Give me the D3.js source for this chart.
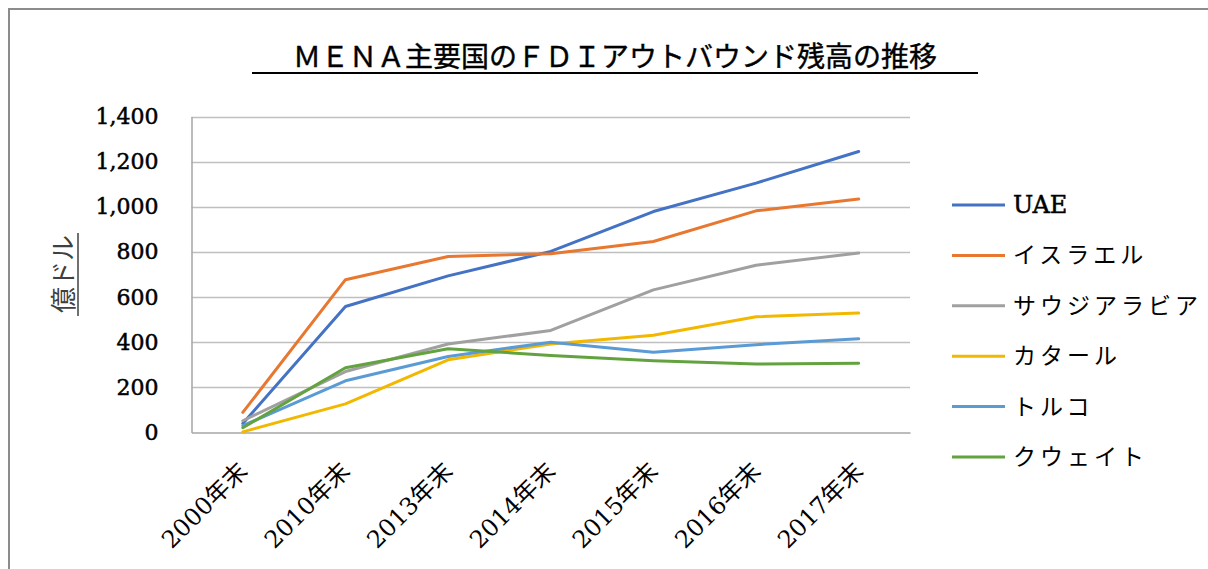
<!DOCTYPE html>
<html><head><meta charset="utf-8">
<script src="https://cdn.jsdelivr.net/npm/d3@7"></script>
<style>
html,body{margin:0;padding:0;background:#fff;}
svg{display:block;}
</style></head>
<body>
<svg id="chart" width="1208" height="569"></svg>
<script>
const title = "ＭＥＮＡ主要国のＦＤＩアウトバウンド残高の推移";
const yLabel = "億ドル";
const categories = ["2000年末","2010年末","2013年末","2014年末","2015年末","2016年末","2017年末"];
const seriesNames = ["UAE","イスラエル","サウジアラビア","カタール","トルコ","クウェイト"];
const seriesColors = ["#4472c4","#e87730","#a0a0a0","#f2b800","#5b9bd5","#63a33f"];
const uae    = [40, 558, 694, 802, 979, 1105, 1245];
const israel = [89, 677, 780, 792, 846, 982, 1034];
const saudi  = [52, 270, 392, 452, 632, 741, 795];
const qatar  = [3, 127, 322, 392, 431, 513, 529];
const turkey = [30, 229, 337, 400, 356, 389, 415];
const kuwait = [21, 287, 371, 341, 318, 303, 307];
const yTicks = [0,200,400,600,800,1000,1200,1400];
const seriesValues = [uae, israel, saudi, qatar, turkey, kuwait];

const svg = d3.select("#chart");
const serif = "'DejaVu Serif','Noto Sans CJK JP',serif";
const jp = "'Noto Sans CJK JP',sans-serif";

// outer frame
svg.append("path").attr("d","M9,1208 L9,9 L1208,9").attr("fill","none")
  .attr("stroke","#8c8c8c").attr("stroke-width",2);

const m = {left:191.5, right:910, top:116.5, bottom:432.5};
const x = d3.scaleBand().domain(categories).range([m.left, m.right]);
const y = d3.scaleLinear().domain([0,1400]).range([m.bottom, m.top]);

// title
svg.append("text").attr("x",615).attr("y",67).attr("text-anchor","middle")
  .attr("font-family",jp).attr("font-size",28).attr("fill","#000")
  .attr("stroke","#000").attr("stroke-width",0.4).text(title);
svg.append("line").attr("x1",252).attr("x2",978).attr("y1",73).attr("y2",73)
  .attr("stroke","#000").attr("stroke-width",2);

// gridlines
svg.append("g").selectAll("line").data(yTicks.filter(d=>d>0)).join("line")
  .attr("x1",m.left).attr("x2",m.right)
  .attr("y1",d=>Math.round(y(d))+0.5).attr("y2",d=>Math.round(y(d))+0.5)
  .attr("stroke","#bfbfbf").attr("stroke-width",1.5);

// y axis
const ya = svg.append("g").attr("transform",`translate(${m.left},0)`)
  .call(d3.axisLeft(y).tickValues(yTicks).tickSize(0).tickPadding(33).tickFormat(d3.format(",")));
ya.select(".domain").attr("stroke","#a6a6a6").attr("stroke-width",1.5);
ya.selectAll("text").attr("font-family",serif).attr("font-size",22).attr("fill","#000")
  .attr("stroke","#000").attr("stroke-width",0.5);

// x axis
const xa = svg.append("g").attr("transform",`translate(0,${m.bottom})`)
  .call(d3.axisBottom(x).tickSize(0).tickSizeOuter(0));
xa.select(".domain").attr("stroke","#a6a6a6").attr("stroke-width",1.5);
xa.selectAll("text").attr("font-family",serif).attr("font-size",24).attr("fill","#000")
  .attr("text-anchor","end").attr("dy",0)
  .attr("transform",`translate(4,38) rotate(-45)`);

// y label
svg.append("text").attr("transform","translate(73,274) rotate(-90)")
  .attr("text-anchor","middle").attr("font-family",jp).attr("font-size",26)
  .attr("fill","#404040").text(yLabel);
svg.append("line").attr("x1",78).attr("x2",78).attr("y1",233).attr("y2",316)
  .attr("stroke","#404040").attr("stroke-width",1.5);

// lines
const line = d3.line().x((d,i)=>x(categories[i])+x.bandwidth()/2).y(d=>y(d));
svg.append("g").selectAll("path").data(seriesValues).join("path")
  .attr("d",d=>line(d)).attr("fill","none")
  .attr("stroke",(d,i)=>seriesColors[i]).attr("stroke-width",3)
  .attr("stroke-linejoin","round").attr("stroke-linecap","round");

// legend
const lg = svg.append("g").selectAll("g").data(seriesNames).join("g")
  .attr("transform",(d,i)=>`translate(952,${205+i*50.4})`);
lg.append("line").attr("x1",0).attr("x2",53).attr("stroke",(d,i)=>seriesColors[i]).attr("stroke-width",3);
lg.append("text").attr("x",61).attr("y",8).attr("font-family",serif)
  .attr("font-size",(d,i)=>i===0?24:23)
  .attr("letter-spacing",(d,i)=>i===0?0:4).attr("fill","#000")
  .attr("stroke","#000").attr("stroke-width",(d,i)=>i===0?0.5:0).text(d=>d);
</script>
</body></html>
